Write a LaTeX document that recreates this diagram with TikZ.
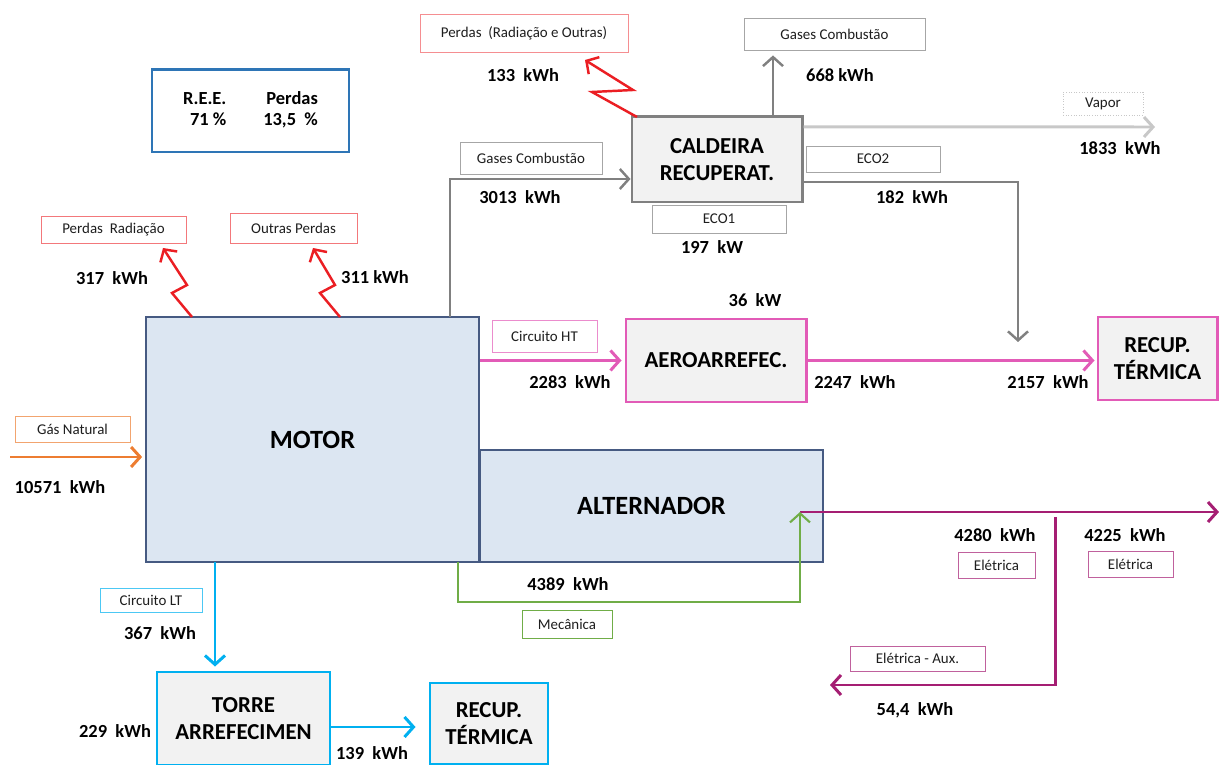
\documentclass[tikz,border=0pt]{standalone}
\usepackage{fontspec}
\setmainfont{Carlito}
\usetikzlibrary{arrows.meta, positioning, calc}
\definecolor{motorblue}{RGB}{220,230,242}
\definecolor{motoredge}{RGB}{70,90,130}
\definecolor{reeblue}{RGB}{46,117,182}
\definecolor{boxgrey}{RGB}{242,242,242}
\definecolor{gasgrey}{RGB}{128,128,128}
\definecolor{vaporgrey}{RGB}{200,200,200}
\definecolor{htpink}{RGB}{226,91,183}
\definecolor{ltblue}{RGB}{0,176,240}
\definecolor{elmagenta}{RGB}{165,30,115}
\definecolor{mecgreen}{RGB}{112,173,71}
\definecolor{gasorange}{RGB}{237,125,49}
\definecolor{zapred}{RGB}{235,30,35}
\definecolor{tagtext}{RGB}{30,30,30}

\begin{document}
\begin{tikzpicture}[
  x=0.2mm, y=-0.2mm,
  unit/.style={rectangle, fill=motorblue, draw=motoredge, line width=1pt, font=\bfseries\fontsize{15}{17}\selectfont},
  equip/.style={rectangle, fill=boxgrey, line width=1.7pt, align=center, font=\bfseries\fontsize{13}{15}\selectfont},
  tag/.style={rectangle, draw, line width=0.5pt, fill=white, text=tagtext, font=\fontsize{8.5}{10}\selectfont, inner sep=1pt},
  val/.style={font=\bfseries\fontsize{10.5}{12}\selectfont, inner sep=1pt},
  flow/.style={-{Straight Barb[length=1.8mm,width=4mm]}, line width=1.7pt},
  zap/.style={flow, draw=zapred, line width=1.4pt}
]
  \useasboundingbox (0,0) rectangle (1219,765);

  % Summary box
  \node[rectangle, draw=reeblue, line width=1.7pt, minimum width=39.4mm, minimum height=16.4mm, val] (ree) at (250.5,111)
    {\begin{tabular}{@{}r@{\qquad}r@{}}R.E.E. & Perdas\\ 71 \% & 13,5 \ \%\end{tabular}};

  % Engine and alternator
  \node[unit, minimum width=66.6mm, minimum height=49mm] (motor) at (312.5,439.5) {MOTOR};
  \node[unit, minimum width=68.6mm, minimum height=22.4mm] (alternador) at (651.5,506) {ALTERNADOR};

  % Equipment
  \node[equip, draw=gasgrey, minimum width=34mm, minimum height=17mm] (caldeira) at (717,159.5) {CALDEIRA\\RECUPERAT.};
  \node[equip, draw=htpink, minimum width=36mm, minimum height=16.6mm] (aero) at (716,360.5) {AEROARREFEC.};
  \node[equip, draw=htpink, minimum width=23.8mm, minimum height=16.6mm] (recupht) at (1157.5,358.5) {RECUP.\\TÉRMICA};
  \node[equip, draw=ltblue, minimum width=34.6mm, minimum height=18.6mm] (torre) at (243.5,718.5) {TORRE\\ARREFECIMEN};
  \node[equip, draw=ltblue, minimum width=23.6mm, minimum height=16.2mm] (recuplt) at (489,723.5) {RECUP.\\TÉRMICA};

  % Tags
  \node[tag, draw=zapred!60, minimum width=29mm, minimum height=5.4mm] (tagrad) at (113.5,229.5) {Perdas\ \ Radiação};
  \node[tag, draw=zapred!60, minimum width=25.4mm, minimum height=6mm] (tagout) at (293.5,228) {Outras Perdas};
  \node[tag, draw=zapred!50, minimum width=41.6mm, minimum height=7.6mm] (tagcald) at (524,33) {Perdas\ \ (Radiação e Outras)};
  \node[tag, draw=gasgrey!70, minimum width=36.2mm, minimum height=6.4mm] (gascomb2) at (834.5,34) {Gases Combustão};
  \node[tag, draw=gasgrey!70, minimum width=28.4mm, minimum height=6.4mm] (gascomb1) at (531,158) {Gases Combustão};
  \node[tag, draw=gasgrey!70, minimum width=26.8mm, minimum height=5.6mm] (tageco1) at (719,219) {ECO1};
  \node[tag, draw=gasgrey!70, minimum width=26.8mm, minimum height=5.2mm] (tageco2) at (873,159) {ECO2};
  \node[tag, draw=vaporgrey, densely dotted, minimum width=16mm, minimum height=4.6mm] (tagvap) at (1103,103.5) {Vapor};
  \node[tag, draw=gasorange!70, minimum width=23mm, minimum height=5.2mm] (taggas) at (72.5,429) {Gás Natural};
  \node[tag, draw=ltblue!70, minimum width=20.4mm, minimum height=4.8mm] (taglt) at (151,600) {Circuito LT};
  \node[tag, draw=htpink!70, minimum width=21mm, minimum height=6.4mm] (taght) at (544.5,336) {Circuito HT};
  \node[tag, draw=mecgreen, minimum width=18mm, minimum height=5.6mm] (tagmec) at (567,624) {Mecânica};
  \node[tag, draw=elmagenta!70, minimum width=15.4mm, minimum height=5.2mm] (tagel1) at (996.5,565) {Elétrica};
  \node[tag, draw=elmagenta!70, minimum width=17mm, minimum height=5.2mm] (tagel2) at (1130.5,564.5) {Elétrica};
  \node[tag, draw=elmagenta!70, minimum width=27mm, minimum height=5mm] (tagaux) at (917.5,658.5) {Elétrica - Aux.};

  % Values
  \node[val] (v317) at (112,278) {317\ \ kWh};
  \node[val] (v311) at (375,277) {311 kWh};
  \node[val] (v10571) at (60,487) {10571\ \ kWh};
  \node[val] (v367) at (160,633) {367\ \ kWh};
  \node[val] (v229) at (115,731) {229\ \ kWh};
  \node[val] (v139) at (372,753) {139\ \ kWh};
  \node[val] (v3013) at (520,197) {3013\ \ kWh};
  \node[val] (v133) at (523,75) {133\ \ kWh};
  \node[val] (v668) at (840,75) {668 kWh};
  \node[val] (v1833) at (1120,148) {1833\ \ kWh};
  \node[val] (v182) at (912,197) {182\ \ kWh};
  \node[val] (v197) at (712,247) {197\ \ kW};
  \node[val] (v36) at (755,300) {36\ \ kW};
  \node[val] (v2283) at (570,382) {2283\ \ kWh};
  \node[val] (v2247) at (855,382) {2247\ \ kWh};
  \node[val] (v2157) at (1048,382) {2157\ \ kWh};
  \node[val] (v4389) at (568,584) {4389\ \ kWh};
  \node[val] (v4280) at (995,535) {4280\ \ kWh};
  \node[val] (v4225) at (1125,535) {4225\ \ kWh};
  \node[val] (v544) at (915,710) {54,4\ \ kWh};

  % Fuel input
  \coordinate (gasin) at (10,457);
  \draw[flow, draw=gasorange, shorten >=0.6mm] (gasin) -- (gasin -| motor.west);

  % Exhaust to boiler
  \coordinate (gasout) at (450,317);
  \coordinate (calin) at ([yshift=-3.9mm]caldeira.west);
  \draw[flow, draw=gasgrey, line width=1.4pt] (gasout) |- (calin);

  % Boiler outputs
  \coordinate (caltop) at ([xshift=11.2mm]caldeira.north);
  \draw[flow, draw=gasgrey, line width=1.4pt, shorten >=1mm] (caltop) -- (caltop |- gascomb2.south);
  \coordinate (calvap) at ([yshift=6.5mm]caldeira.east);
  \coordinate (vapend) at (1155,127);
  \draw[flow, draw=vaporgrey] (calvap) -- (vapend);
  \coordinate (caleco) at ([yshift=-4.5mm]caldeira.east);
  \coordinate (ecoin) at (1018,342);
  \draw[flow, draw=gasgrey, line width=1.4pt] (caleco) -| (ecoin);

  % Losses
  \coordinate (zaprad) at (192,317);
  \coordinate (zapout) at (340,317);
  \coordinate (zapcald) at (637,117);
  \draw[zap] (zaprad) -- ++(-20,-24) -- ++(15,-8) -- ++(-24,-37);
  \draw[zap] (zapout) -- ++(-20,-24) -- ++(15,-8) -- ++(-22,-37);
  \draw[zap] (zapcald) -- ++(-45,-25) -- ++(41,-2) -- ++(-48,-30);

  % HT circuit
  \draw[flow, draw=htpink, shorten >=0.6mm] (aero.west -| motor.east) -- (aero.west);
  \draw[flow, draw=htpink, shorten >=0.4mm] (aero.east) -- (aero.east -| recupht.west);

  % LT circuit
  \coordinate (ltout) at (215,562);
  \draw[flow, draw=ltblue, shorten >=0.8mm] (ltout) -- (ltout |- torre.north);
  \coordinate (torreout) at ([yshift=-1.7mm]torre.east);
  \draw[flow, draw=ltblue, shorten >=2.6mm] (torreout) -- (torreout -| recuplt.west);

  % Electrical output
  \coordinate (elout) at (800,512);
  \coordinate (elend) at (1219,512);
  \draw[flow, draw=elmagenta] (elout) -- (elend);
  \coordinate (auxsplit) at (1055,517);
  \coordinate (auxend) at (830,685);
  \draw[flow, draw=elmagenta] (auxsplit) |- (auxend);

  % Mechanical power
  \coordinate (mecout) at (458,562);
  \draw[flow, draw=mecgreen, line width=1.2pt] (mecout) -- ++(0,40) -| (elout);
\end{tikzpicture}
\end{document}
